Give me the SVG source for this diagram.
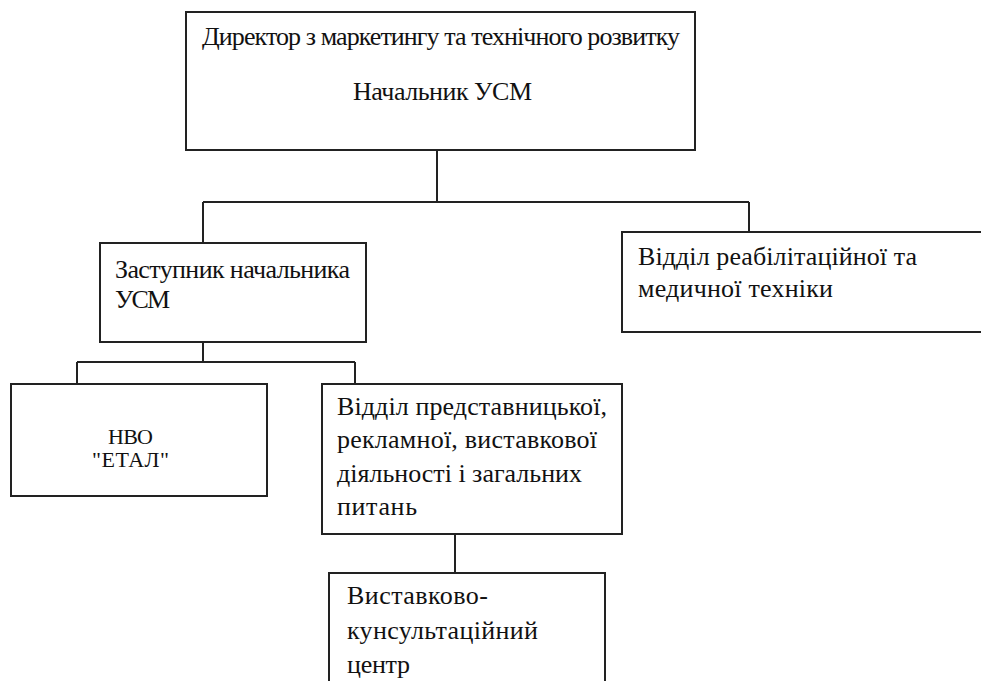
<svg xmlns="http://www.w3.org/2000/svg" width="981" height="681" viewBox="0 0 981 681">
<style>
.box{fill:#fff;stroke:#222;stroke-width:2}
.ln{fill:none;stroke:#222;stroke-width:2}
text{font-family:'Liberation Serif','Tinos','DejaVu Serif',serif;font-size:26px;fill:#111}
.s{font-size:22px}
</style>
<rect width="981" height="681" fill="#fff"/>
<g id="connectors">
<path class="ln" d="M437,150 V202 M203,202 H749 M203,202 V243 M749,202 V232"/>
<path class="ln" d="M203,342 V362 M77,362 H355 M77,362 V384 M355,362 V384"/>
<path class="ln" d="M455,534 V573"/>
</g>
<g id="director">
<rect class="box" x="186" y="12" width="509" height="138"/>
<text x="202" y="45" textLength="478">Директор з маркетингу та технічного розвитку</text>
<text x="353" y="100" textLength="179">Начальник УСМ</text>
</g>
<g id="deputy">
<rect class="box" x="100" y="243" width="266" height="99"/>
<text x="115" y="278" textLength="235">Заступник начальника</text>
<text x="115" y="308" textLength="55">УСМ</text>
</g>
<g id="rehab">
<rect class="box" x="622" y="232" width="400" height="100"/>
<text x="638" y="265" textLength="279">Відділ реабілітаційної та</text>
<text x="638" y="297" textLength="195">медичної техніки</text>
</g>
<g id="etal">
<rect class="box" x="11" y="384" width="256" height="112"/>
<text class="s" x="108" y="444" textLength="45">НВО</text>
<text class="s" x="92" y="467" textLength="77">"ЕТАЛ"</text>
</g>
<g id="repr">
<rect class="box" x="322" y="384" width="300" height="150"/>
<text x="337" y="415" textLength="270">Відділ представницької,</text>
<text x="337" y="448" textLength="260">рекламної, виставкової</text>
<text x="337" y="482" textLength="245">діяльності і загальних</text>
<text x="337" y="515" textLength="80">питань</text>
</g>
<g id="center">
<rect class="box" x="329" y="573" width="276" height="130"/>
<text x="347" y="604" textLength="141">Виставково-</text>
<text x="347" y="639" textLength="191">кунсультаційний</text>
<text x="347" y="673" textLength="63">центр</text>
</g>
</svg>
